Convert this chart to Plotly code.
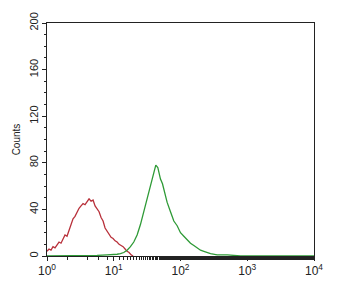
import plotly.graph_objects as go

# log10 positions and counts
red_log = [0.00,0.03,0.06,0.09,0.12,0.15,0.18,0.21,0.24,0.27,0.30,0.33,0.36,0.39,0.42,0.45,0.48,0.51,0.54,0.57,0.60,0.63,0.66,0.69,0.72,0.75,0.78,0.81,0.84,0.87,0.90,0.93,0.96,0.99,1.02,1.05,1.08,1.11,1.14,1.17,1.20,1.23,1.26,1.29]
red_cnt = [4,6,5,8,7,10,12,11,15,18,17,22,27,32,34,38,41,43,45,44,47,49,47,48,43,41,38,33,30,24,21,19,16,15,13,12,10,9,8,6,4,3,1,0]

green_log = [0.00,0.15,0.30,0.45,0.60,0.75,0.90,1.00,1.05,1.10,1.15,1.20,1.25,1.30,1.35,1.40,1.45,1.50,1.55,1.60,1.63,1.66,1.70,1.73,1.76,1.80,1.85,1.90,1.95,2.00,2.05,2.10,2.15,2.20,2.25,2.30,2.35,2.40,2.45,2.55,2.70,2.90,3.20,3.60,4.00]
green_cnt = [0,0,0,0.5,0,0.5,1,1,1.5,2,3,5,8,12,18,27,38,48,60,70,78,76,66,62,54,46,38,30,26,20,17,14,11,9,7,5,4,3,2,1,1,0,0,0,0]

y_ticks = [0, 40, 80, 120, 160, 200]
x_ticks = [1, 10, 100, 1000, 10000]
x_labels = ["10<sup>0</sup>", "10<sup>1</sup>", "10<sup>2</sup>", "10<sup>3</sup>", "10<sup>4</sup>"]

fig = go.Figure()
fig.add_trace(go.Scatter(x=[10**v for v in red_log], y=red_cnt, mode="lines",
                         line=dict(color="#b8303a", width=1.3)))
fig.add_trace(go.Scatter(x=[10**v for v in green_log], y=green_cnt, mode="lines",
                         line=dict(color="#2e9a36", width=1.3)))

font = dict(family="Liberation Sans, Arial, sans-serif", size=10, color="#222")
fig.update_layout(
    width=337, height=292, showlegend=False,
    margin=dict(l=47, r=23, t=17, b=36),
    paper_bgcolor="white", plot_bgcolor="white", font=font,
    xaxis=dict(type="log", range=[0, 4], tickvals=x_ticks, ticktext=x_labels,
               showgrid=False, zeroline=False, showline=True, linecolor="#222", linewidth=1,
               mirror=True, ticks="outside", ticklen=4, tickcolor="#222",
               minor=dict(ticks="outside", ticklen=3, tickcolor="#222", showgrid=False),
               tickfont=dict(size=12)),
    yaxis=dict(range=[0, 200], tickvals=y_ticks, showgrid=False, zeroline=False,
               showline=True, linecolor="#222", linewidth=1, mirror=True,
               ticks="outside", ticklen=4, tickcolor="#222", tickangle=-90,
               tickfont=dict(size=11),
               minor=dict(ticks="outside", ticklen=2, tickcolor="#222", dtick=10, showgrid=False),
               title=dict(text="Counts", standoff=5, font=dict(size=10))),
)
fig.write_html("out.html")
